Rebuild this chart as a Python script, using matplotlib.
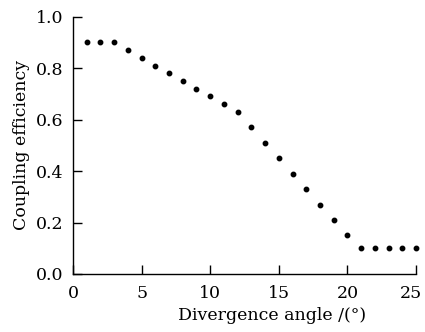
import matplotlib

matplotlib.use("Agg")
import matplotlib.pyplot as plt  # noqa: E402
from matplotlib.transforms import ScaledTranslation  # noqa: E402

# divergence angle (deg) vs coupling efficiency
angle = list(range(1, 26))
efficiency = [0.90, 0.90, 0.90, 0.87, 0.84, 0.81, 0.78, 0.75, 0.72, 0.69,
              0.66, 0.63, 0.57, 0.51, 0.45, 0.39, 0.33, 0.27, 0.21, 0.15,
              0.10, 0.10, 0.10, 0.10, 0.10]
x_ticks = [0, 5, 10, 15, 20, 25]
y_ticks = [0.0, 0.2, 0.4, 0.6, 0.8, 1.0]

plt.rcParams["font.family"] = ["DejaVu Serif"]
plt.rcParams["font.size"] = 12.5

fig = plt.figure(figsize=(4.25, 3.32), dpi=100)
ax = fig.add_axes([73 / 425, 1 - 274 / 332, (416 - 73) / 425, (274 - 16.7) / 332])

ax.plot(angle, efficiency, "o", color="black", markersize=3.2, clip_on=False)

ax.set_xlim(0, 25)
ax.set_ylim(0, 1.0)
ax.set_xticks(x_ticks)
ax.set_yticks(y_ticks)
ax.set_yticklabels([f"{v:.1f}" for v in y_ticks])
ax.tick_params(direction="in", length=6.5, width=1.0)
ax.tick_params(axis="x", pad=8)
ax.tick_params(axis="y", pad=7)
for side in ("top", "right"):
    ax.spines[side].set_visible(False)
for side in ("left", "bottom"):
    ax.spines[side].set_linewidth(1.0)

# nudge the last x label in so it is not clipped at the figure edge
last = ax.get_xticklabels()[-1]
last.set_transform(last.get_transform() + ScaledTranslation(-0.05, 0, fig.dpi_scale_trans))

ax.set_xlabel("Divergence angle /(°)")
ax.xaxis.set_label_coords(0.58, -0.13)
ax.set_ylabel("Coupling efficiency", labelpad=4)

fig.savefig("out.png", dpi=100)
